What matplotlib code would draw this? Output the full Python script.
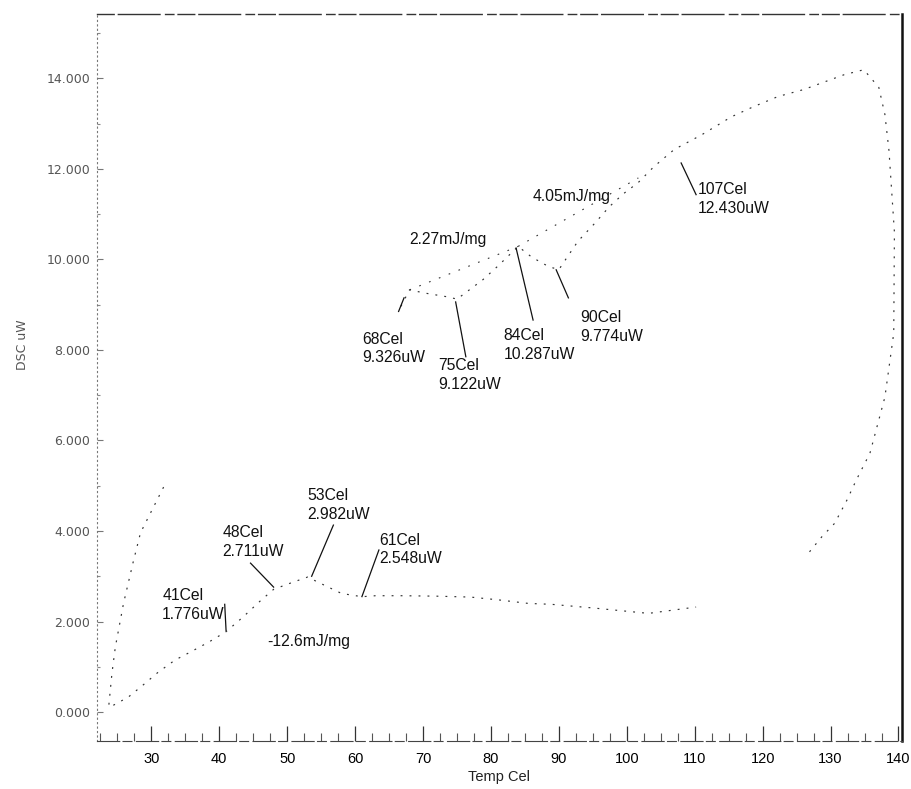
import numpy as np
import matplotlib
matplotlib.use("Agg")
import matplotlib.pyplot as plt
from matplotlib.ticker import MultipleLocator, FormatStrFormatter

# DSC trace, heating branch (low side) then the return branch (high side)
heat_temp = [24.4, 26.6, 28.8, 31.0, 33.5, 35.8, 38.5, 41.0, 43.5, 46.0,
             48.0, 50.5, 53.0, 55.5, 58.0, 61.0, 63.0, 67.0, 72.0, 77.0,
             81.0, 85.5, 88.9, 95.0, 103.2, 110.2]
heat_dsc = [0.15, 0.33, 0.60, 0.88, 1.15, 1.33, 1.55, 1.776, 2.10, 2.45,
            2.711, 2.85, 2.982, 2.80, 2.62, 2.548, 2.57, 2.57, 2.56, 2.54,
            2.48, 2.40, 2.38, 2.30, 2.18, 2.32]

loop_temp = [126.9, 128.7, 130.6, 132.4, 133.8, 135.8, 138.0, 139.3, 139.4,
             138.6, 138.0, 137.1, 134.9, 132.0, 126.0, 122.3, 118.6, 115.4,
             111.0, 107.0, 104.0, 101.7, 99.5, 97.4, 95.3, 92.8, 91.0, 90.0,
             88.5, 86.0, 84.0, 81.0, 78.8, 75.0, 73.7, 70.5, 68.0, 66.7]
loop_dsc = [3.54, 3.87, 4.17, 4.68, 5.13, 5.72, 6.96, 8.37, 10.60,
            12.40, 13.20, 13.80, 14.19, 14.08, 13.75, 13.60, 13.37, 13.15,
            12.75, 12.430, 12.05, 11.70, 11.45, 11.16, 10.80, 10.40, 10.00, 9.774,
            9.84, 10.05, 10.287, 9.85, 9.55, 9.122, 9.17, 9.25, 9.326, 8.95]

cool_temp = [31.8, 28.4, 27.3, 25.9, 24.7, 24.2, 23.7]
cool_dsc = [4.97, 3.96, 3.30, 2.40, 1.44, 0.86, 0.09]

# Integration baselines
base_temp = [[68.0, 84.0], [84.0, 101.7]]
base_dsc = [[9.326, 10.287], [10.287, 11.80]]

# Peak annotations
peak_temp = [41, 48, 53, 61, 68, 75, 84, 90, 107]
peak_dsc = [1.776, 2.711, 2.982, 2.548, 9.326, 9.122, 10.287, 9.774, 12.430]

# Enthalpy labels
enthalpy_text = ["-12.6mJ/mg", "2.27mJ/mg", "4.05mJ/mg"]

x_ticks = [30, 40, 50, 60, 70, 80, 90, 100, 110, 120, 130, 140]
y_ticks = [0, 2, 4, 6, 8, 10, 12, 14]

fig = plt.figure(figsize=(9.11, 7.89), dpi=100)
ax = fig.add_axes([0.1065, 0.0608, 0.8835, 0.9214])
ax.set_xlim(22.0, 140.5)
ax.set_ylim(-0.64, 15.42)

trace_style = dict(color="#333333", lw=0.85, linestyle=(0, (1.6, 6.0)))
ax.plot(heat_temp, heat_dsc, **trace_style)
ax.plot(loop_temp, loop_dsc, **trace_style)
ax.plot(cool_temp, cool_dsc, **trace_style)
for bt, bd in zip(base_temp, base_dsc):
    ax.plot(bt, bd, color="#333333", lw=0.8, linestyle=(0, (1.5, 8.0)))

# label text position (upper-left corner) and leader end for each peak
label_pos = [(31.6, 2.74), (40.5, 4.13), (52.9, 4.95), (63.6, 3.96),
             (61.1, 8.40), (72.2, 7.82), (81.9, 8.48), (93.1, 8.88),
             (110.5, 11.71)]
leader_start = [(41.0, 1.80), (48.0, 2.76), (53.6, 3.00), (61.0, 2.55),
                (66.4, 8.85), (74.8, 9.06), (83.7, 10.25), (89.6, 9.77),
                (108.0, 12.13)]
leader_end = [(40.8, 2.38), (44.6, 3.29), (56.8, 4.13), (63.5, 3.58),
              (67.2, 9.15), (76.3, 7.85), (86.2, 8.66), (91.4, 9.15),
              (110.2, 11.43)]

ann_font = dict(family=["Liberation Sans"], size=11.3, color="#111111")
for t, v, (tx, ty), s, e in zip(peak_temp, peak_dsc, label_pos,
                                leader_start, leader_end):
    ax.plot([s[0], e[0]], [s[1], e[1]], color="#111111", lw=0.9)
    ax.text(tx, ty, f"{t}Cel\n{v:.3f}uW", ha="left", va="top",
            linespacing=1.3, **ann_font)

enthalpy_pos = [(47.1, 1.55), (67.9, 10.43), (86.2, 11.38)]
for txt, (tx, ty) in zip(enthalpy_text, enthalpy_pos):
    ax.text(tx, ty, txt, ha="left", va="center", **ann_font)

# axes frame: worn top and left edges, solid right edge
ax.spines["top"].set_linestyle((0, (12, 3, 30, 4, 6, 3)))
ax.spines["top"].set_linewidth(1.0)
ax.spines["top"].set_color("#333333")
ax.spines["left"].set_linestyle((0, (1, 3)))
ax.spines["left"].set_linewidth(0.8)
ax.spines["left"].set_color("#777777")
ax.spines["bottom"].set_linewidth(0.8)
ax.spines["bottom"].set_color("#444444")
ax.spines["bottom"].set_linestyle((0, (20, 3, 8, 4)))
ax.spines["right"].set_linewidth(1.8)
ax.spines["right"].set_color("#111111")

ax.xaxis.set_minor_locator(MultipleLocator(2.5))
ax.set_xticks(x_ticks)
ax.tick_params(axis="x", which="major", direction="in", length=11,
               width=0.9, color="#333333", labelsize=10.5, pad=8)
ax.tick_params(axis="x", which="minor", direction="in", length=6,
               width=0.8, color="#555555")
for lab in ax.get_xticklabels():
    lab.set_family("Liberation Sans")

ax.set_yticks(y_ticks)
ax.yaxis.set_major_formatter(FormatStrFormatter("%.3f"))
ax.yaxis.set_minor_locator(MultipleLocator(1))
ax.tick_params(axis="y", which="major", direction="in", length=4,
               width=0.8, color="#777777", labelsize=9, labelcolor="#555555",
               pad=5)
ax.tick_params(axis="y", which="minor", direction="in", length=2,
               width=0.8, color="#888888")

ax.set_xlabel("Temp Cel", family="Liberation Sans", fontsize=10.5,
              color="#222222", labelpad=3)
ax.set_ylabel("DSC uW", fontsize=9, color="#555555")
ax.yaxis.set_label_coords(-0.085, 0.545)

fig.savefig("out.png", dpi=100, facecolor="white")
